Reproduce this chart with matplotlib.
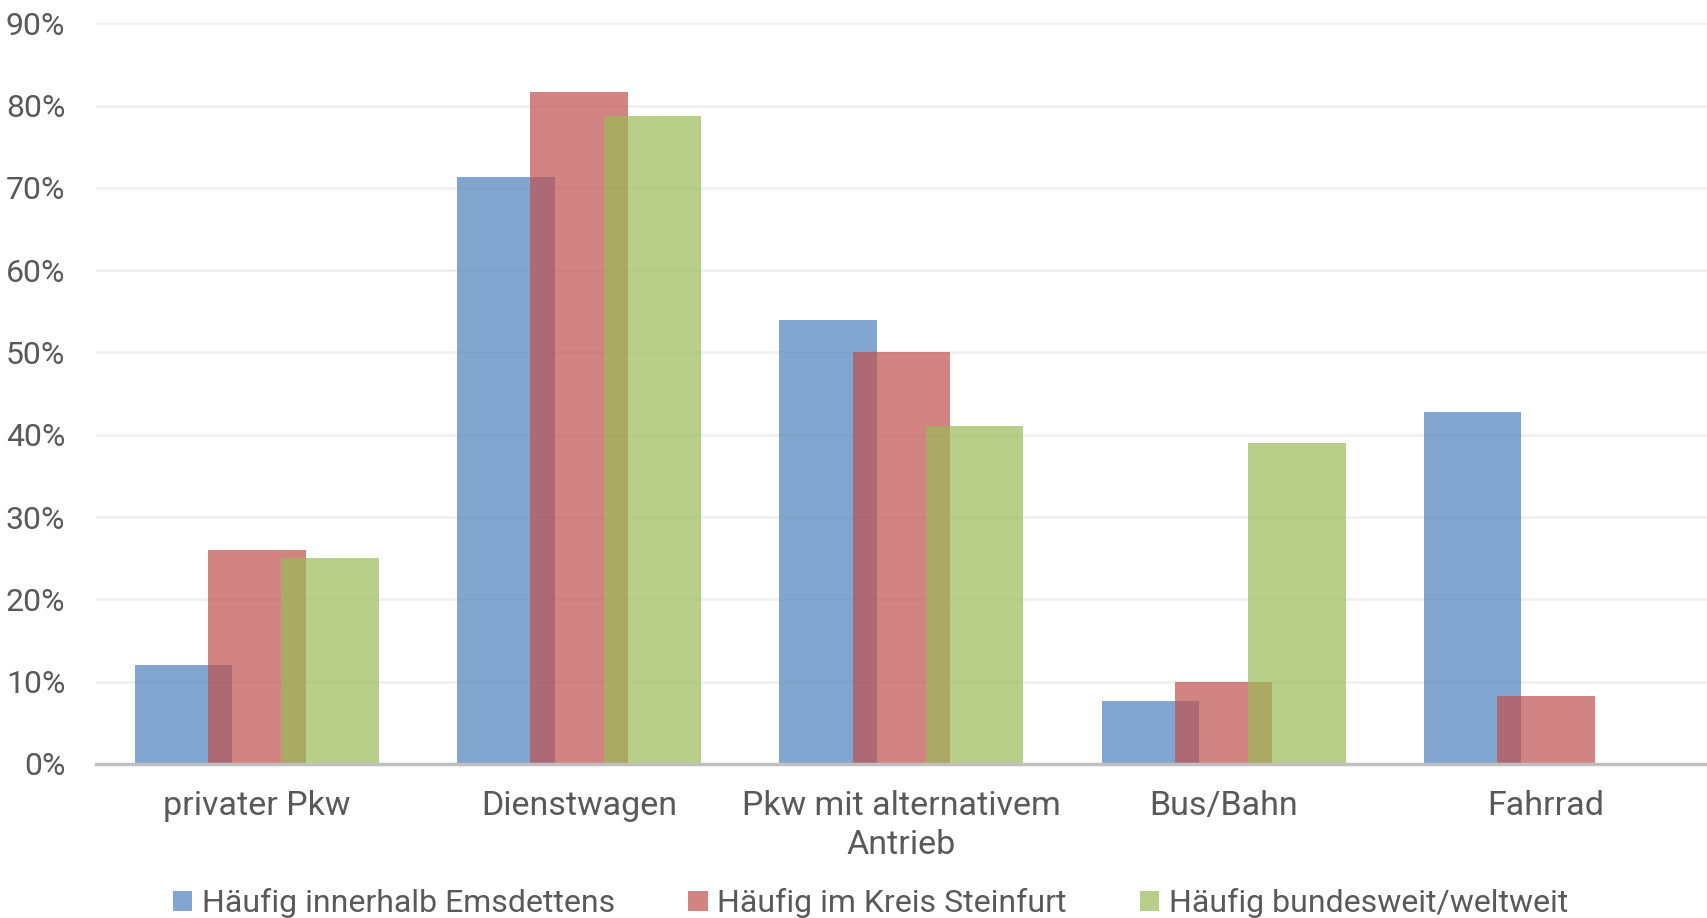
import matplotlib
matplotlib.use("Agg")
import matplotlib.pyplot as plt
from matplotlib.patches import Patch
from matplotlib.ticker import FuncFormatter
import numpy as np

# Verkehrsmittel und Nutzungshäufigkeit (in Prozent)
categories = ["privater Pkw", "Dienstwagen", "Pkw mit alternativem\nAntrieb", "Bus/Bahn", "Fahrrad"]
series_names = ["Häufig innerhalb Emsdettens", "Häufig im Kreis Steinfurt", "Häufig bundesweit/weltweit"]
emsdetten = [12.0, 71.3, 54.0, 7.7, 42.8]
kreis_steinfurt = [26.0, 81.7, 50.0, 10.0, 8.3]
bundesweit = [25.0, 78.7, 41.1, 39.0, 0.0]
yticks = [0, 10, 20, 30, 40, 50, 60, 70, 80, 90]

colors = ["#4F81BD", "#C0504D", "#9BBB59"]
text_color = "#595959"
plt.rcParams["font.family"] = ["Roboto", "DejaVu Sans"]

fig = plt.figure(figsize=(17.07, 9.18), dpi=100)
ax = fig.add_axes([0.0561, 0.1678, 0.9439, 0.8068])

# Excel-artige Anordnung: Überlappung 25 %, Abstandsbreite 80 %
bar_w = 1 / 3.3
step = 0.75 * bar_w
x = np.arange(len(categories))
for i, (vals, col, name) in enumerate(zip([emsdetten, kreis_steinfurt, bundesweit], colors, series_names)):
    ax.bar(x + (i - 1) * step, vals, width=bar_w, color=col, alpha=0.7,
           edgecolor="none", label=name, zorder=2)

ax.set_xlim(-0.5, len(categories) - 0.5)
ax.set_ylim(0, 90)
ax.set_yticks(yticks)
ax.yaxis.set_major_formatter(FuncFormatter(lambda v, p: f"{v:.0f}%"))
ax.set_xticks(x)
ax.set_xticklabels(categories, linespacing=1.25)

ax.grid(axis="y", color="#F0F0F0", linewidth=2, zorder=0)
ax.set_axisbelow(True)
for s in ["top", "right", "left"]:
    ax.spines[s].set_visible(False)
ax.spines["bottom"].set_color("#BFBFBF")
ax.spines["bottom"].set_linewidth(2.5)
ax.spines["bottom"].set_zorder(3)

ax.tick_params(axis="y", length=0, pad=22, labelsize=23, labelcolor=text_color)
ax.tick_params(axis="x", length=0, pad=19, labelsize=24.5, labelcolor=text_color)

handles = [Patch(facecolor=c, alpha=0.7, edgecolor="none") for c in colors]
fig.legend(handles, series_names, loc="center", bbox_to_anchor=(0.51, 0.016), ncol=3,
           frameon=False, fontsize=23, labelcolor=text_color, handlelength=0.6,
           handleheight=0.6, handletextpad=0.3, columnspacing=2.3)

fig.savefig("out.png", dpi=100)
